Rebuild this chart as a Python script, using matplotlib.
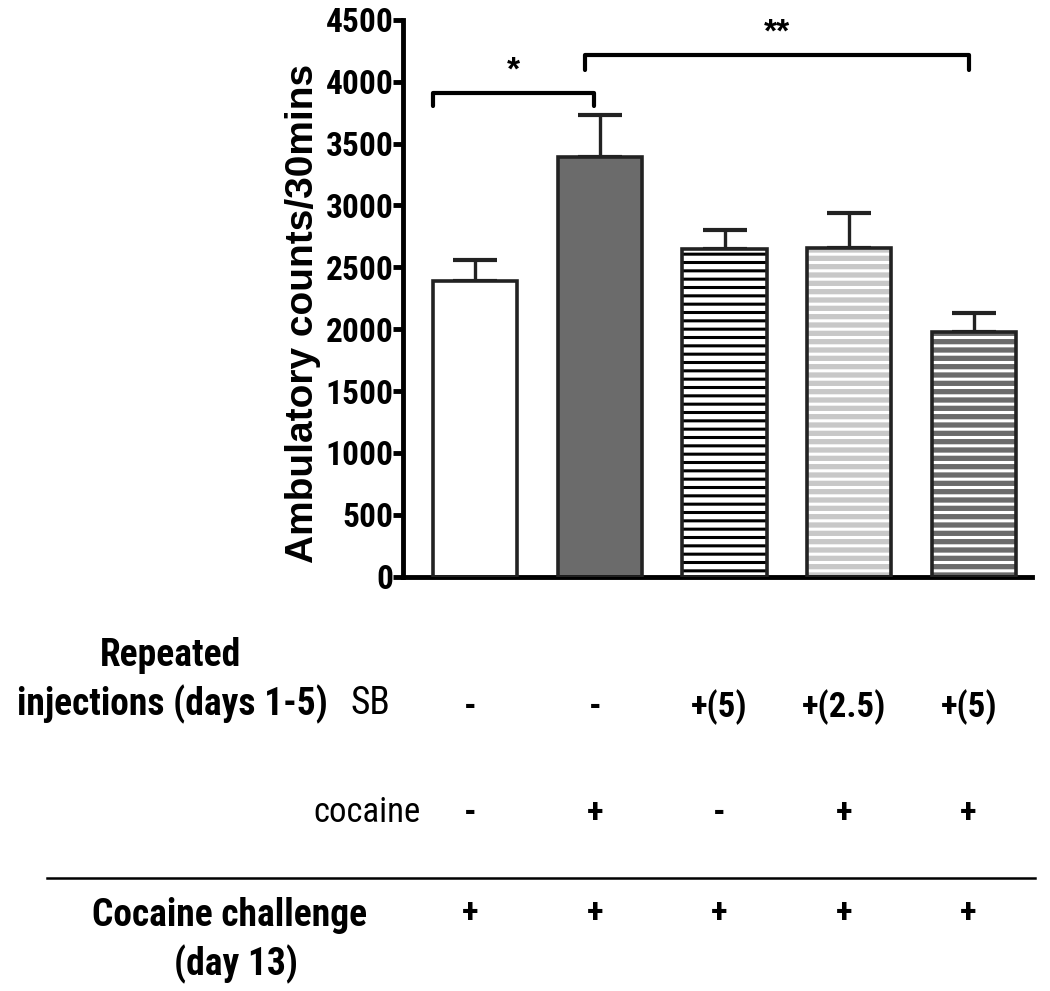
import matplotlib.pyplot as plt
import matplotlib.transforms as mtransforms

# data
groups = ['veh', 'coc', 'SB5', 'SB2.5+coc', 'SB5+coc']
means = [2390, 3390, 2650, 2660, 1980]
sems = [170, 340, 150, 280, 155]
fills = ['white', '#6b6b6b', 'white', '#c8c8c8', '#6b6b6b']
hatch_cols = [None, None, 'black', 'white', 'white']
sb_row = ['-', '-', '+(5)', '+(2.5)', '+(5)']
coc_row = ['-', '+', '-', '+', '+']
challenge_row = ['+', '+', '+', '+', '+']

narrow = ['Liberation Sans Narrow', 'Roboto Condensed', 'Fira Sans Condensed',
          'Liberation Sans', 'DejaVu Sans']
wide = ['Liberation Sans', 'DejaVu Sans']
plt.rcParams['font.family'] = narrow
plt.rcParams['hatch.linewidth'] = 2.2

fig = plt.figure(figsize=(10.5, 9.91), dpi=100)
ax = fig.add_axes([0.384, 0.418, 0.599, 0.562])

x = list(range(len(means)))
w = 0.675
for i in x:
    if hatch_cols[i] is not None:
        ax.bar(i, means[i], w, color=fills[i], edgecolor=hatch_cols[i],
               hatch='--', linewidth=0, zorder=2)
    else:
        ax.bar(i, means[i], w, color=fills[i], linewidth=0, zorder=2)
    ax.bar(i, means[i], w, fill=False, edgecolor='#222222', linewidth=2.6, zorder=3)
    ax.errorbar(i, means[i], yerr=[[0], [sems[i]]], color='#222222', elinewidth=2.4,
                capsize=16, capthick=3, zorder=1)

ax.set_xlim(-0.58, 4.47)
ax.set_ylim(0, 4500)
ax.set_yticks(range(0, 4501, 500))
ax.set_xticks([])
for s in ['top', 'right']:
    ax.spines[s].set_visible(False)
for s in ['left', 'bottom']:
    ax.spines[s].set_linewidth(3.5)
ax.tick_params(axis='y', width=3.5, length=7, labelsize=24, pad=0)
for t in ax.get_yticklabels():
    t.set_fontweight('bold')
ax.set_ylabel('Ambulatory counts/30mins', fontsize=28, fontweight='bold',
              family=wide, labelpad=3)
ax.yaxis.label.set_y(0.473)

# significance brackets
def bracket(x0, x1, y, h, label):
    ax.plot([x0, x0, x1, x1], [y - h, y, y, y - h], color='black', lw=3,
            clip_on=False, solid_capstyle='round')
    ax.text((x0 + x1) / 2, y + 50, label, ha='center', va='bottom',
            fontsize=24, fontweight='bold', family=wide)

bracket(-0.34, 0.95, 3910, 110, '*')
bracket(0.88, 3.96, 4217, 120, '**')

# table under the axes
tr = mtransforms.blended_transform_factory(ax.transData, fig.transFigure)
def row(vals, ypix):
    for i, v in enumerate(vals):
        ax.text(i - 0.04, 1 - ypix / 991, v, transform=tr, ha='center', va='center',
                fontsize=25, fontweight='bold', clip_on=False)

row(sb_row, 707)
row(coc_row, 814)
row(challenge_row, 913)

fig.text(170 / 1050, 1 - 655 / 991, 'Repeated', ha='center', va='center',
         fontsize=27, fontweight='bold')
fig.text(172 / 1050, 1 - 704 / 991, 'injections (days 1-5)', ha='center', va='center',
         fontsize=27, fontweight='bold')
fig.text(370 / 1050, 1 - 704 / 991, 'SB', ha='center', va='center', fontsize=27)
fig.text(421 / 1050, 1 - 812 / 991, 'cocaine', ha='right', va='center', fontsize=25)
fig.add_artist(plt.Line2D([47 / 1050, 1035 / 1050], [1 - 878 / 991] * 2,
                          color='black', lw=1.8))
fig.text(230 / 1050, 1 - 915 / 991, 'Cocaine challenge', ha='center', va='center',
         fontsize=27, fontweight='bold')
fig.text(236 / 1050, 1 - 964 / 991, '(day 13)', ha='center', va='center',
         fontsize=27, fontweight='bold')

fig.savefig('out.png', dpi=100)
